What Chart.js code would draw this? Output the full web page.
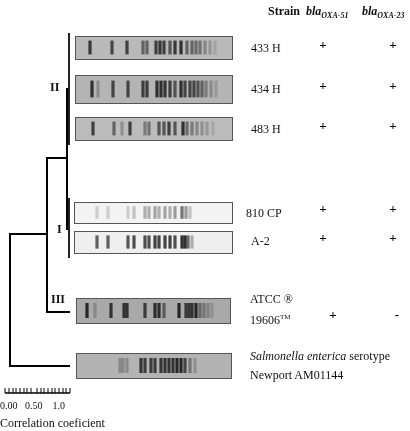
<!DOCTYPE html>
<html><head><meta charset="utf-8">
<script src="https://cdn.jsdelivr.net/npm/chart.js"></script>
<style>
*{margin:0;padding:0}body{width:410px;height:431px;background:#fff;position:relative;overflow:hidden;font-family:'Liberation Serif','Times New Roman',serif;color:#111}
#wrap{position:absolute;left:0;top:0;width:410px;height:431px}
.t{position:absolute;font-size:12px;white-space:nowrap;line-height:14px}
.b{font-weight:bold}
</style></head><body>
<div id="wrap"><canvas id="c"></canvas></div>
<div class="t b" style="left:268px;top:4px">Strain</div>
<div class="t b" style="left:306px;top:4px"><i>bla</i><sub style="font-size:8px"><i>OXA-51</i></sub></div>
<div class="t b" style="left:362px;top:4px"><i>bla</i><sub style="font-size:8px"><i>OXA-23</i></sub></div>
<div class="t" style="left:251px;top:41px">433 H</div>
<div class="t" style="left:251px;top:82px">434 H</div>
<div class="t" style="left:251px;top:122px">483 H</div>
<div class="t" style="left:246px;top:206px">810 CP</div>
<div class="t" style="left:251px;top:234px">A-2</div>
<div class="t" style="left:250px;top:292px">ATCC ®</div>
<div class="t" style="left:250px;top:310px">19606<sup style="font-size:7px">TM</sup></div>
<div class="t" style="left:250px;top:349px"><i>Salmonella enterica</i> serotype</div>
<div class="t" style="left:250px;top:368px">Newport AM01144</div>
<div class="t b" style="left:50px;top:80px">II</div>
<div class="t b" style="left:57px;top:222px">I</div>
<div class="t b" style="left:51px;top:292px">III</div>
<div class="t" style="left:0px;top:399px;font-size:10px">0.00&nbsp;&nbsp;&nbsp;0.50&nbsp;&nbsp;&nbsp;&nbsp;1.0</div>
<div class="t" style="left:0px;top:416px">Correlation coeficient</div>
<script>
// signs per strain: [blaOXA-51, blaOXA-23]
const signY = [46, 87, 127, 210, 239, 316];
const oxa51 = ["+", "+", "+", "+", "+", "+"];
const oxa23 = ["+", "+", "+", "+", "+", "-"];

// lanes: top, bottom, left, right, background
const laneTop = [36, 75, 117, 202, 231, 298, 353];
const laneBottom = [59, 103, 140, 223, 253, 323, 378];
const laneLeft = [75, 75, 75, 74, 74, 76, 76];
const laneRight = [232, 232, 232, 232, 232, 230, 231];
const laneBg = ["#b9b9b9", "#b4b4b4", "#bcbcbc", "#f3f3f3", "#efefef", "#a9a9a9", "#b3b3b3"];

// band positions and intensities (0..1) per lane
const bandsX = [
  [90,112,127,143,147,156,160,164,170,175,181,187,192,196,200,205,210,215],
  [92,98,113,128,143,147,157,161,165,170,175,181,185,190,194,198,202,206,211,216],
  [93,114,122,130,145,149,159,164,169,175,183,187,192,197,202,207,213],
  [97,108,128,134,145,149,155,159,165,170,175,182,186,190],
  [97,108,128,134,145,149,155,159,165,170,175,182,185,188,192],
  [87,95,111,124,127,145,155,159,164,179,186,189,192,196,200,204,208,212],
  [120,123,127,141,145,151,155,161,165,169,173,177,181,185,190,195]
];
const bandsI = [
  [0.9,0.8,0.85,0.6,0.6,0.85,0.9,0.85,0.7,0.9,0.95,0.6,0.6,0.55,0.5,0.35,0.25,0.15],
  [0.95,0.3,0.8,0.8,0.85,0.85,0.95,0.95,0.9,0.85,0.7,0.95,0.8,0.8,0.8,0.7,0.6,0.4,0.3,0.2],
  [0.85,0.6,0.3,0.85,0.45,0.5,0.7,0.7,0.85,0.7,0.95,0.55,0.45,0.35,0.3,0.25,0.15],
  [0.2,0.2,0.2,0.25,0.35,0.35,0.4,0.35,0.4,0.35,0.45,0.65,0.45,0.25],
  [0.75,0.75,0.8,0.85,0.85,0.85,0.9,0.9,0.9,0.9,0.85,1,1,0.7,0.35],
  [1,0.25,0.9,0.9,0.9,0.85,0.95,0.95,0.6,1,0.85,0.85,0.9,1,0.5,0.4,0.3,0.2],
  [0.3,0.3,0.3,0.9,0.85,0.85,0.85,0.9,0.9,0.9,0.9,1,1,0.8,0.45,0.25]
];

// dendrogram paths
const paths = [
  {pts:[[69,33],[69,145]], w:1},
  {pts:[[69,198],[69,258]], w:1},
  {pts:[[67,88],[67,230]], w:2},
  {pts:[[67,158],[47,158],[47,312],[70,312]], w:2},
  {pts:[[47,234],[10,234],[10,366],[70,366]], w:2},
  {pts:[[5,393],[70,393]], w:1.5}
];
const scaleTicks = [5,9,13,16,20,24,27,31,37,41,44,48,52,55,59,63,66,70];

const datasets = [];
paths.forEach(p => datasets.push({type:'line', data:p.pts.map(q=>({x:q[0],y:q[1]})), borderColor:'#000', borderWidth:p.w, pointRadius:0, tension:0}));
datasets.push({type:'scatter', data:scaleTicks.map(x=>({x, y:390.5})), pointStyle:'line', rotation:90, radius:2.5, borderColor:'#000', borderWidth:1});
bandsX.forEach((xs, li) => {
  const yc = (laneTop[li] + laneBottom[li]) / 2;
  const h = (laneBottom[li] - laneTop[li]) * 0.3;
  datasets.push({type:'scatter', data:xs.map(x=>({x, y:yc})), pointStyle:'line', rotation:90, radius:h, hoverRadius:h,
    borderWidth:3.2, borderColor:ctx => `rgba(15,15,15,${0.85 * (bandsI[li][ctx.dataIndex] ?? 0.5)})`});
});

const lanesPlugin = {
  id:'lanes',
  beforeDatasetsDraw(chart){
    const {ctx, scales:{x, y}} = chart;
    ctx.save();
    laneTop.forEach((t, i) => {
      const x0 = x.getPixelForValue(laneLeft[i]), x1 = x.getPixelForValue(laneRight[i]);
      const y0 = y.getPixelForValue(t), y1 = y.getPixelForValue(laneBottom[i]);
      ctx.fillStyle = laneBg[i];
      ctx.fillRect(x0, y0, x1 - x0, y1 - y0);
      ctx.strokeStyle = '#555'; ctx.lineWidth = 1;
      ctx.strokeRect(x0 + 0.5, y0 + 0.5, x1 - x0, y1 - y0);
    });
    ctx.restore();
  },
  afterDatasetsDraw(chart){
    const {ctx, scales:{x, y}} = chart;
    ctx.save();
    ctx.fillStyle = '#000'; ctx.font = 'bold 13px "Liberation Serif"'; ctx.textAlign = 'center'; ctx.textBaseline = 'middle';
    signY.forEach((sy, i) => {
      const py = y.getPixelForValue(sy);
      ctx.fillText(oxa51[i], x.getPixelForValue(i === 5 ? 333 : 323), py);
      ctx.fillText(oxa23[i], x.getPixelForValue(i === 5 ? 397 : 393), py);
    });
    ctx.restore();
  }
};

new Chart(document.getElementById('c'), {
  data:{datasets},
  options:{
    responsive:true, maintainAspectRatio:false, animation:false,
    layout:{padding:0, autoPadding:false},
    plugins:{legend:{display:false}, tooltip:{enabled:false}},
    scales:{
      x:{type:'linear', min:0, max:410, display:false},
      y:{type:'linear', min:0, max:431, reverse:true, display:false}
    }
  },
  plugins:[lanesPlugin]
});
</script>
</body></html>
